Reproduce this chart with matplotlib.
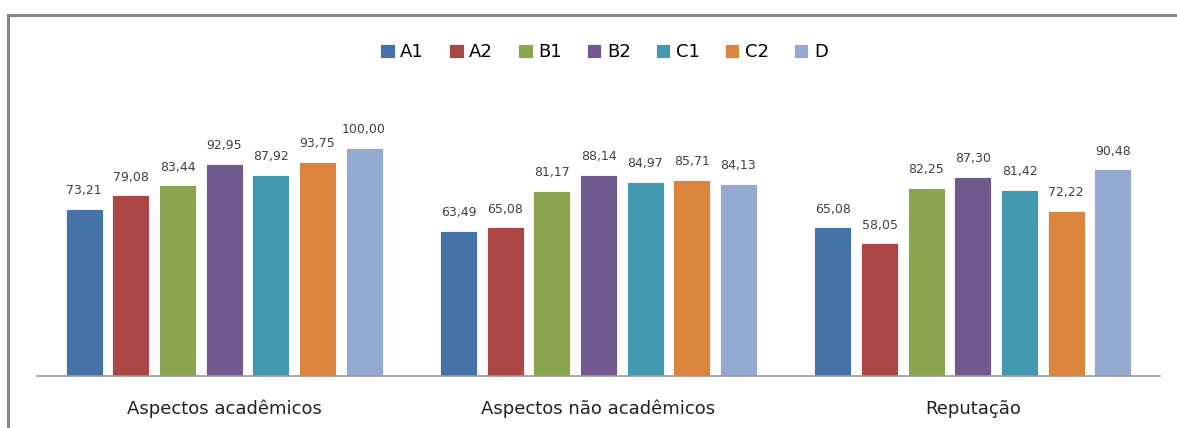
import numpy as np
import matplotlib
matplotlib.use('Agg')
import matplotlib.pyplot as plt
from matplotlib.patches import Rectangle

categories = ['Aspectos acadêmicos', 'Aspectos não acadêmicos', 'Reputação']
series = ['A1', 'A2', 'B1', 'B2', 'C1', 'C2', 'D']
values = {
    'A1': [73.21, 63.49, 65.08],
    'A2': [79.08, 65.08, 58.05],
    'B1': [83.44, 81.17, 82.25],
    'B2': [92.95, 88.14, 87.30],
    'C1': [87.92, 84.97, 81.42],
    'C2': [93.75, 85.71, 72.22],
    'D':  [100.00, 84.13, 90.48],
}
colors = ['#4572A7', '#AA4643', '#89A54E', '#71588F', '#4198AF', '#DB843D', '#93A9CF']

fig = plt.figure(figsize=(11.77, 4.28), dpi=100)
# chart frame (Excel-like border)
fig.patches.append(Rectangle((8/1177, -0.05), 1.2, (428-15)/428 + 0.05,
                             transform=fig.transFigure, fill=False,
                             edgecolor='#868686', linewidth=2.2))

ax = fig.add_axes([37/1177, 52/428, (1160-37)/1177, 274/428])
x = np.arange(len(categories))
step = 0.1246
width = 0.099
for i, s in enumerate(series):
    pos = x + (i - 3) * step
    bars = ax.bar(pos, values[s], width, color=colors[i], edgecolor='white',
                  linewidth=0.6, label=s)
    for b, v in zip(bars, values[s]):
        ax.text(b.get_x() + b.get_width()/2, v + 5.2, f'{v:.2f}'.replace('.', ','),
                ha='center', va='bottom', fontsize=9, color='#404040')

ax.set_xlim(-0.5, 2.5)
ax.set_ylim(0, 120)
ax.set_yticks([])
ax.set_xticks(x)
ax.set_xticklabels(categories, fontsize=13, color='#222222')
ax.tick_params(axis='x', length=0, pad=17)
for sp in ['top', 'right', 'left']:
    ax.spines[sp].set_visible(False)
ax.spines['bottom'].set_color('#9a9a9a')
ax.spines['bottom'].set_linewidth(1.2)

fig.legend(loc='center', bbox_to_anchor=(604/1177, 1 - 52/428), ncol=7,
           frameon=False, fontsize=13, handlelength=0.8, handleheight=0.8,
           handletextpad=0.3, columnspacing=1.4)

fig.savefig('out.png', dpi=100)
